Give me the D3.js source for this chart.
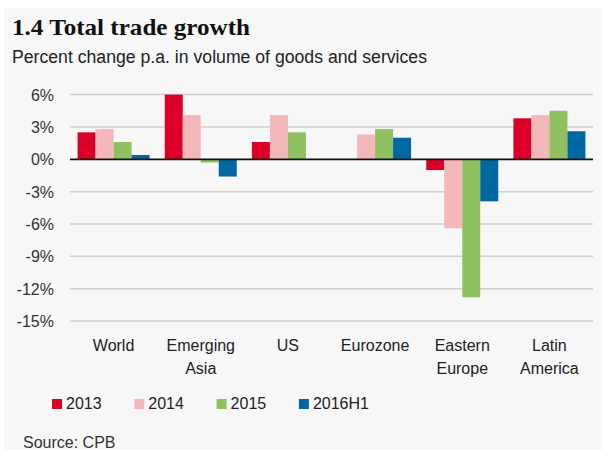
<!DOCTYPE html>
<html>
<head>
<meta charset="utf-8">
<script src="https://cdn.jsdelivr.net/npm/d3@7"></script>
<style>
  html, body { margin: 0; padding: 0; background: #ffffff; }
  svg { display: block; }
</style>
</head>
<body>
<svg id="chart" width="602" height="450"></svg>
<script>
const categories = ["World", "Emerging Asia", "US", "Eurozone", "Eastern Europe", "Latin America"];
const categoryLines = [["World"], ["Emerging", "Asia"], ["US"], ["Eurozone"], ["Eastern", "Europe"], ["Latin", "America"]];
const seriesNames = ["2013", "2014", "2015", "2016H1"];
const values2013 = [2.5, 6.0, 1.6, null, -1.0, 3.8];
const values2014 = [2.8, 4.1, 4.1, 2.3, -6.4, 4.1];
const values2015 = [1.6, -0.3, 2.5, 2.8, -12.8, 4.5];
const values2016H1 = [0.4, -1.6, null, 2.0, -3.9, 2.6];
const yTicks = [6, 3, 0, -3, -6, -9, -12, -15];
const colors = ["#dc0029", "#f4b8ba", "#8fc160", "#0068a0"];

const seriesValues = [values2013, values2014, values2015, values2016H1];

const svg = d3.select("#chart");

// panel background
svg.append("rect").attr("x", 4).attr("y", 8).attr("width", 598).attr("height", 442).attr("fill", "#f7f7f7");

// title & subtitle
svg.append("text").attr("x", 12).attr("y", 35)
  .attr("font-family", "Liberation Serif, DejaVu Serif, serif")
  .attr("font-weight", "bold").attr("font-size", 23).attr("fill", "#111")
  .attr("textLength", 238).attr("lengthAdjust", "spacingAndGlyphs")
  .text("1.4 Total trade growth");
svg.append("text").attr("x", 12).attr("y", 63)
  .attr("font-family", "Liberation Sans Narrow, Liberation Sans, Arial, sans-serif")
  .attr("font-size", 18).attr("fill", "#222")
  .attr("textLength", 415).attr("lengthAdjust", "spacingAndGlyphs")
  .text("Percent change p.a. in volume of goods and services");

const left = 70, right = 593;
const y = d3.scaleLinear().domain([-15, 6]).range([321, 94.6]);
const x0 = d3.scaleBand().domain(categories).range([left, right]).paddingInner(0.174).paddingOuter(0.087);
const x1 = d3.scaleBand().domain(seriesNames).range([0, x0.bandwidth()]).padding(0);

// gridlines
svg.append("g").selectAll("line").data(yTicks.filter(d => d !== 0)).join("line")
  .attr("x1", left).attr("x2", right)
  .attr("y1", d => y(d)).attr("y2", d => y(d))
  .attr("stroke", "#cfcfcf").attr("stroke-width", 1.5);

// y axis labels
const yAxis = d3.axisLeft(y).tickValues(yTicks).tickSize(0).tickPadding(0).tickFormat(d => d + "%");
const yg = svg.append("g").attr("transform", `translate(54,0)`).call(yAxis);
yg.select(".domain").remove();
yg.selectAll("text").attr("font-family", "Liberation Sans, Arial, sans-serif")
  .attr("font-size", 16).attr("fill", "#333").attr("dy", "0.35em");

// bars
const rows = [];
categories.forEach((c, i) => {
  seriesNames.forEach((s, j) => {
    const v = seriesValues[j][i];
    if (v !== null && v !== undefined) rows.push({ c, s, v, j });
  });
});
svg.append("g").selectAll("rect").data(rows).join("rect")
  .attr("x", d => x0(d.c) + x1(d.s))
  .attr("width", x1.bandwidth())
  .attr("y", d => y(Math.max(0, d.v)))
  .attr("height", d => Math.abs(y(d.v) - y(0)))
  .attr("fill", d => colors[d.j]);

// zero line
svg.append("line").attr("x1", left).attr("x2", right).attr("y1", y(0)).attr("y2", y(0))
  .attr("stroke", "#111").attr("stroke-width", 1.8);

// category labels
const cl = svg.append("g").selectAll("text").data(categories).join("text")
  .attr("x", d => x0(d) + x0.bandwidth() / 2)
  .attr("y", 351)
  .attr("text-anchor", "middle")
  .attr("font-family", "Liberation Sans, Arial, sans-serif")
  .attr("font-size", 16).attr("fill", "#222");
cl.each(function(d, i) {
  const t = d3.select(this);
  categoryLines[i].forEach((line, k) => {
    t.append("tspan").attr("x", x0(d) + x0.bandwidth() / 2).attr("dy", k === 0 ? 0 : 23).text(line);
  });
});

// legend
const lg = svg.append("g").selectAll("g").data(seriesNames).join("g")
  .attr("transform", (d, i) => `translate(${52 + i * 82.3},399)`);
lg.append("rect").attr("width", 10).attr("height", 10).attr("fill", (d, i) => colors[i]);
lg.append("text").attr("x", 14).attr("y", 10)
  .attr("font-family", "Liberation Sans, Arial, sans-serif")
  .attr("font-size", 16).attr("fill", "#222").text(d => d);

// source
svg.append("text").attr("x", 23).attr("y", 448)
  .attr("font-family", "Liberation Sans, Arial, sans-serif")
  .attr("font-size", 16).attr("fill", "#333").text("Source: CPB");
</script>
</body>
</html>
